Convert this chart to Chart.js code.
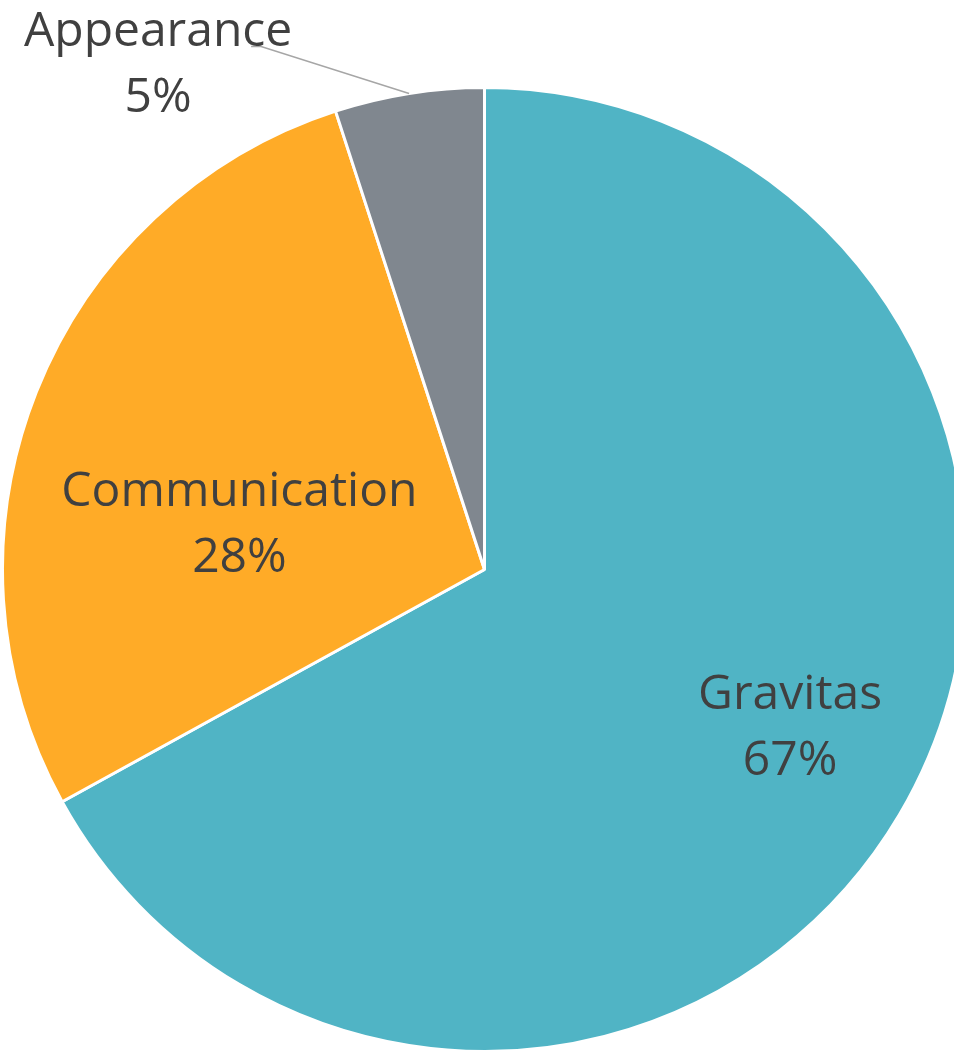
<!DOCTYPE html>
<html>
<head>
<meta charset="utf-8">
<script src="https://cdn.jsdelivr.net/npm/chart.js@4.4.1/dist/chart.umd.min.js"></script>
<style>
  html, body { margin: 0; padding: 0; background: #ffffff; overflow: hidden; }
  #wrap { position: absolute; left: 0; top: 0; width: 970px; height: 1060px; }
</style>
</head>
<body>
<div id="wrap"><canvas id="pie"></canvas></div>
<script>
const labels = ["Gravitas", "Communication", "Appearance"];
const values = [67, 28, 5];
const colors = ["#50B4C5", "#FFAB27", "#80878F"];

// label placement: radius factor along the slice mid-angle + a small nudge
const labelRadius = [0.71, 0.52, 1.0];
const labelNudge = [[11, -2], [-12, 62], [0, 0]];
const outside = [false, false, true];

const textColor = "#404040";
const fontSize = 48;
const lineGap = 66;

const sliceLabels = {
  id: "sliceLabels",
  afterDatasetsDraw(chart) {
    const ctx = chart.ctx;
    const arcs = chart.getDatasetMeta(0).data;
    const total = values.reduce((a, b) => a + b, 0);
    ctx.save();
    ctx.font = fontSize + "px 'Open Sans'";
    ctx.fillStyle = textColor;
    ctx.textAlign = "center";
    ctx.textBaseline = "alphabetic";
    arcs.forEach((arc, i) => {
      const { x, y, startAngle, endAngle, outerRadius } = arc.getProps(
        ["x", "y", "startAngle", "endAngle", "outerRadius"], true);
      const mid = (startAngle + endAngle) / 2;
      const pct = Math.round(values[i] / total * 100) + "%";
      let tx, ty;
      if (!outside[i]) {
        tx = x + Math.cos(mid) * outerRadius * labelRadius[i] + labelNudge[i][0];
        ty = y + Math.sin(mid) * outerRadius * labelRadius[i] + labelNudge[i][1];
      } else {
        // leader line from arc edge to a spot up and left of it
        const ex = x + Math.cos(mid) * outerRadius;
        const ey = y + Math.sin(mid) * outerRadius;
        const kx = ex - 148, ky = ey - 47;
        ctx.strokeStyle = "#A6A6A6";
        ctx.lineWidth = 1.5;
        ctx.beginPath();
        ctx.moveTo(ex, ey);
        ctx.lineTo(kx, ky);
        ctx.lineTo(kx - 10, ky);
        ctx.stroke();
        tx = kx - 103;
        ty = ky + 33;
      }
      ctx.fillText(labels[i], tx, ty - lineGap / 2);
      ctx.fillText(pct, tx, ty + lineGap / 2);
    });
    ctx.restore();
  }
};

new Chart(document.getElementById("pie"), {
  type: "pie",
  data: {
    labels,
    datasets: [
      {
        data: values,
        backgroundColor: colors,
        borderColor: "#ffffff",
        borderWidth: 3,
      },
    ],
  },
  options: {
    responsive: true,
    maintainAspectRatio: false,
    animation: false,
    layout: { padding: { left: 1, top: 86, right: 2, bottom: 7 } },
    plugins: { legend: { display: false }, tooltip: { enabled: false } },
  },
  plugins: [sliceLabels],
});
</script>
</body>
</html>
